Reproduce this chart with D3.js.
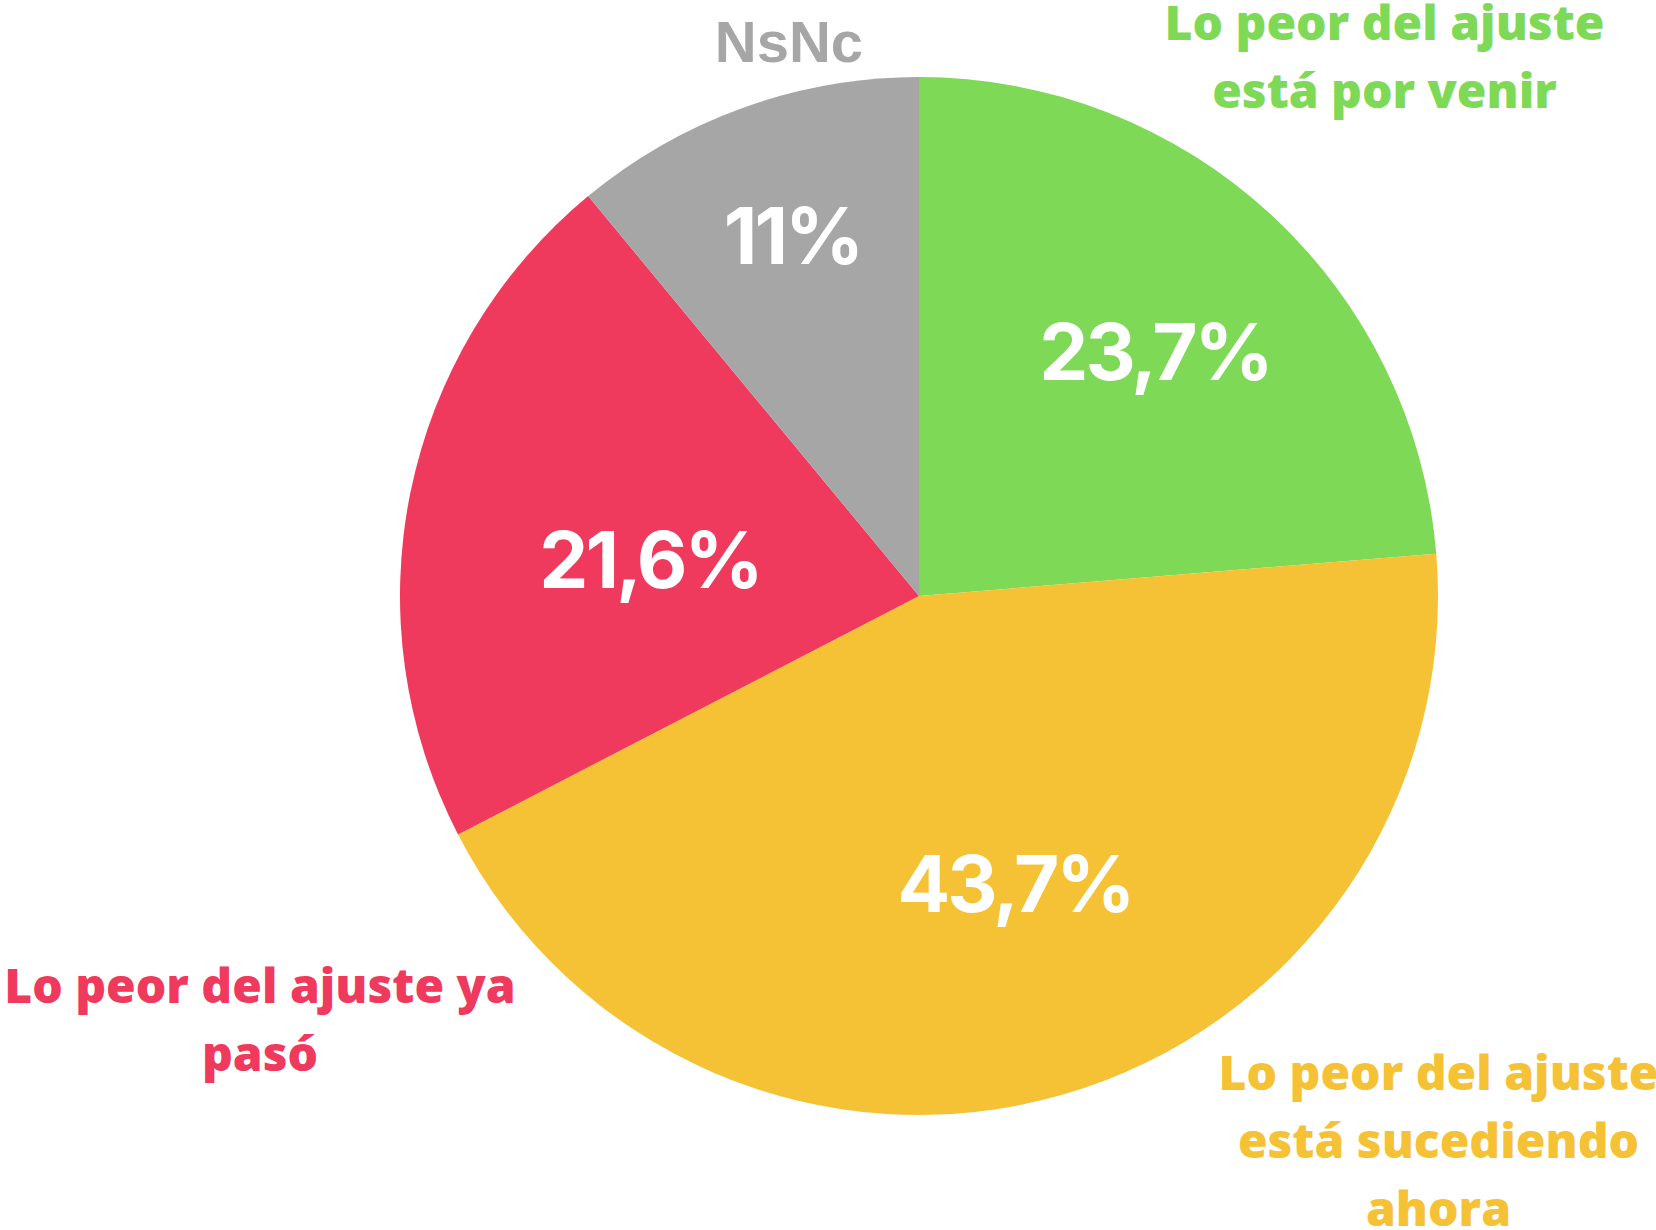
<!DOCTYPE html>
<html>
<head>
<meta charset="utf-8">
<script src="https://cdn.jsdelivr.net/npm/d3@7"></script>
<style>
  body { margin: 0; background: #fff; }
</style>
</head>
<body>
<script>
// datos de la encuesta
var categorias = ['Lo peor del ajuste está por venir', 'Lo peor del ajuste está sucediendo ahora', 'Lo peor del ajuste ya pasó', 'NsNc'];
var valores = [23.7, 43.7, 21.6, 11];
var etiquetas = ['23,7%', '43,7%', '21,6%', '11%'];
var lineasNombre = [
    ['Lo peor del ajuste', 'está por venir'],
    ['Lo peor del ajuste', 'está sucediendo', 'ahora'],
    ['Lo peor del ajuste ya', 'pasó'],
    ['NsNc']
];

var colores = ['#7ed957', '#f6c235', '#ef3a5d', '#a6a6a6'];

var width = 1656, height = 1230;
var cx = 919, cy = 596, radio = 519;

// desplazamiento del porcentaje desde el centro de la torta (línea base)
var posPorcentaje = [[234.5, -216], [94.5, 316], [-270.5, -8], [-128, -332]];
// posición de los nombres (x centro, primera línea base)
var posNombre = [[1384.5, 40], [1438.5, 1090], [260, 1003], [789, 62]];

var svg = d3.select('body').append('svg')
    .attr('width', width)
    .attr('height', height);

var g = svg.append('g').attr('transform', 'translate(' + cx + ',' + cy + ')');

var pie = d3.pie().sort(null).value(function(d) { return d; });
var arcos = pie(valores);

var arc = d3.arc().innerRadius(0).outerRadius(radio);

g.selectAll('path.slice').data(arcos)
    .enter()
    .append('path')
    .attr('class', 'slice')
    .attr('d', arc)
    .attr('fill', function(d, i) { return colores[i]; });

// porcentajes
g.selectAll('text.pct').data(arcos)
    .enter()
    .append('text')
    .attr('class', 'pct')
    .attr('x', function(d, i) { return posPorcentaje[i][0] + 1.5; })
    .attr('y', function(d, i) { return posPorcentaje[i][1]; })
    .attr('text-anchor', 'middle')
    .attr('fill', '#fff')
    .style('font-family', 'Inter, sans-serif')
    .style('font-weight', 700)
    .style('font-size', '78px')
    .style('letter-spacing', '-3px')
    .text(function(d, i) { return etiquetas[i]; });

// nombres de categorías
lineasNombre.forEach(function(lineas, i) {
    var t = svg.append('text')
        .attr('text-anchor', 'middle')
        .attr('fill', colores[i])
        .style('font-weight', i == 3 ? 'bold' : 800)
        .style('font-family', i == 3 ? '"Liberation Sans", Arial, sans-serif' : '"Open Sans", sans-serif')
        .style('font-size', i == 3 ? '58px' : '48px');
    lineas.forEach(function(l, j) {
        t.append('tspan')
            .attr('x', posNombre[i][0])
            .attr('y', posNombre[i][1] + j * 67.8)
            .text(l);
    });
});
</script>
</body>
</html>
